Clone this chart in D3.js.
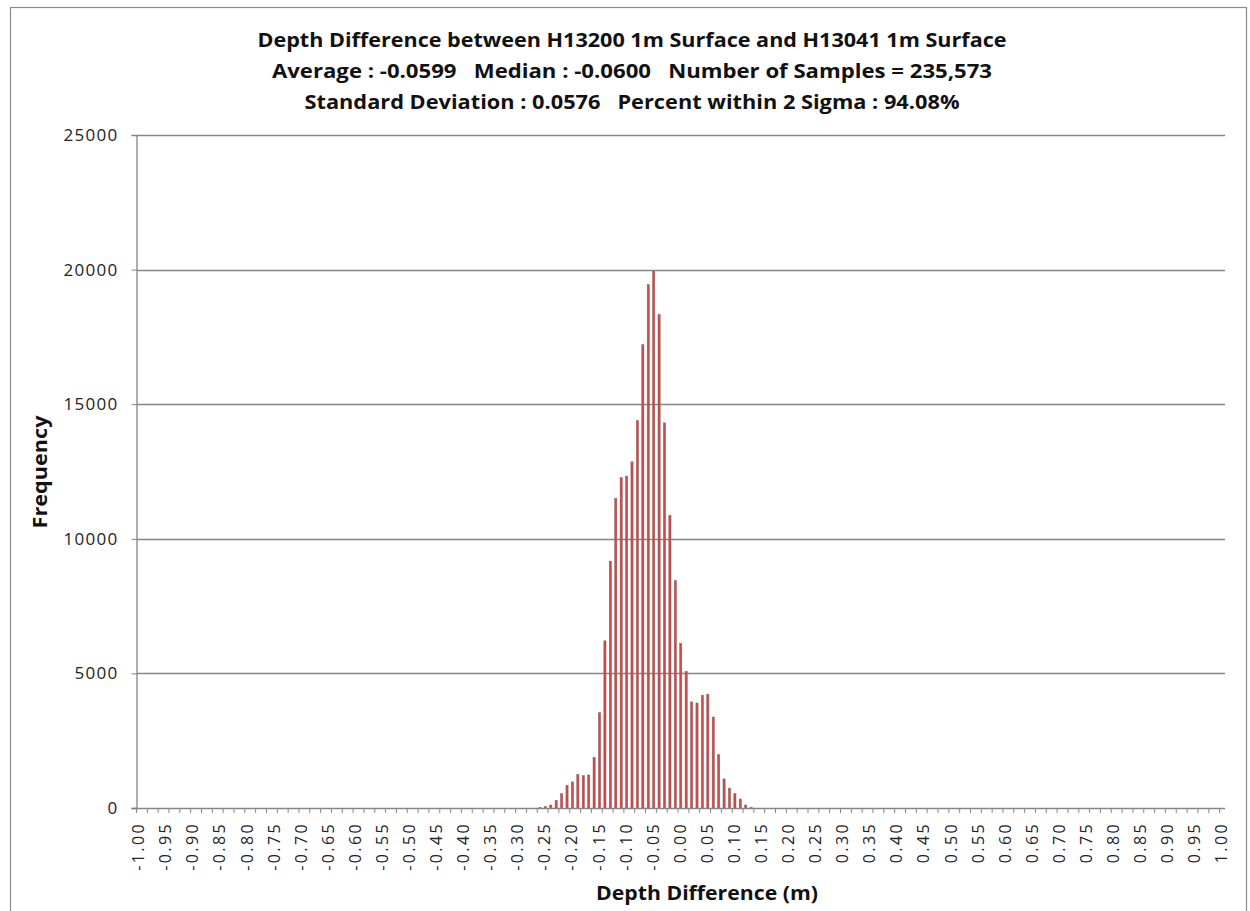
<!DOCTYPE html>
<html>
<head>
<meta charset="utf-8">
<script src="https://cdn.jsdelivr.net/npm/d3@7"></script>
<style>
  body { margin: 0; background: #ffffff; }
  svg { display: block; }
  text { white-space: pre; }
</style>
</head>
<body>
<svg id="chart" width="1250" height="911"></svg>
<script>
// ---- data -------------------------------------------------------------
const titleLines = [
  "Depth Difference between H13200 1m Surface and H13041 1m Surface",
  "Average : -0.0599   Median : -0.0600   Number of Samples = 235,573",
  "Standard Deviation : 0.0576   Percent within 2 Sigma : 94.08%"
];

// histogram bins, 0.01 m wide, labelled -1.00 ... 1.00
const depthBins = d3.range(-100, 101).map(k => (k / 100).toFixed(2));

// sample count in each bin (same order as depthBins)
const frequency = [
  0, 0, 0, 0, 0, 0, 0, 0, 0, 0,
  0, 0, 0, 0, 0, 0, 0, 0, 0, 0,
  0, 0, 0, 0, 0, 0, 0, 0, 0, 0,
  0, 0, 0, 0, 0, 0, 0, 0, 0, 0,
  0, 0, 0, 0, 0, 0, 0, 0, 0, 0,
  0, 0, 0, 0, 0, 0, 0, 0, 0, 0,
  0, 0, 0, 0, 0, 0, 0, 0, 0, 0,
  0, 0, 0, 0, 15, 50, 110, 285, 530, 830,
  970, 1250, 1200, 1225, 1880, 3540, 6210, 9170, 11500, 12270,
  12330, 12860, 14390, 17210, 19440, 19940, 18330, 14310, 10870, 8450,
  6110, 5080, 3940, 3900, 4190, 4225, 3380, 1980, 1080, 740,
  530, 335, 110, 10, 0, 0, 0, 0, 0, 0,
  0, 0, 0, 0, 0, 0, 0, 0, 0, 0,
  0, 0, 0, 0, 0, 0, 0, 0, 0, 0,
  0, 0, 0, 0, 0, 0, 0, 0, 0, 0,
  0, 0, 0, 0, 0, 0, 0, 0, 0, 0,
  0, 0, 0, 0, 0, 0, 0, 0, 0, 0,
  0, 0, 0, 0, 0, 0, 0, 0, 0, 0,
  0, 0, 0, 0, 0, 0, 0, 0, 0, 0,
  0, 0, 0, 0, 0, 0, 0, 0, 0, 0,
  0
];

const yTickValues = [0, 5000, 10000, 15000, 20000, 25000];
const xLabelEvery = 5;   // a label on every 5th bin
const xTickEvery = 2;    // a tick mark on every 2nd bin edge
const xAxisTitle = "Depth Difference (m)";
const yAxisTitle = "Frequency";

// ---- layout -----------------------------------------------------------
const plot = { left: 136.5, right: 1225, top: 135, bottom: 808 };
const gridColor = "#868686";
const labelFont = "'Open Sans', 'DejaVu Sans', sans-serif";
const titleWidths = [749, 720, 655];

const svg = d3.select("#chart");

// outer chart frame
svg.append("rect")
  .attr("x", 10.5).attr("y", 7.5)
  .attr("width", 1236).attr("height", 940)
  .attr("fill", "#ffffff")
  .attr("stroke", "#8a8a8a").attr("stroke-width", 1.2);

const x = d3.scaleBand()
  .domain(depthBins)
  .range([plot.left, plot.right])
  .paddingInner(0.6)
  .paddingOuter(0.3);

const y = d3.scaleLinear()
  .domain([0, 25000])
  .range([plot.bottom, plot.top]);

// horizontal gridlines
svg.append("g")
  .selectAll("line")
  .data(yTickValues.filter(v => v > 0))
  .join("line")
  .attr("x1", plot.left).attr("x2", plot.right)
  .attr("y1", d => Math.round(y(d)) + 0.5)
  .attr("y2", d => Math.round(y(d)) + 0.5)
  .attr("stroke", gridColor).attr("stroke-width", 1.3);

// bars
const bins = depthBins.map((b, i) => ({ bin: b, count: frequency[i] }));
svg.append("g")
  .selectAll("rect")
  .data(bins.filter(d => d.count > 0))
  .join("rect")
  .attr("x", d => x(d.bin))
  .attr("width", x.bandwidth())
  .attr("y", d => y(d.count))
  .attr("height", d => y(0) - y(d.count))
  .attr("fill", "#c94b4b")
  .attr("stroke", "#9b5656")
  .attr("stroke-width", 0.5);

// y axis
const yAxis = d3.axisLeft(y)
  .tickValues(yTickValues)
  .tickSize(5)
  .tickPadding(13)
  .tickFormat(d3.format("d"));
const gy = svg.append("g")
  .attr("transform", `translate(${plot.left},0)`)
  .call(yAxis);
gy.select(".domain").attr("stroke", gridColor).attr("stroke-width", 1.3);
gy.selectAll(".tick line").attr("stroke", gridColor);
gy.selectAll(".tick text")
  .attr("font-family", labelFont)
  .attr("font-size", 17)
  .attr("letter-spacing", 1.3)
  .attr("fill", "#222");

// x axis: edge tick marks every 2 bins, labels every 5 bins
const half = (x.step() - x.bandwidth()) / 2;
const edgePositions = d3.range(0, depthBins.length + 1, xTickEvery)
  .map(k => k < depthBins.length ? x(depthBins[k]) - half : plot.right);

const gx = svg.append("g");
gx.append("line")
  .attr("x1", plot.left - 5).attr("x2", plot.right)
  .attr("y1", plot.bottom + 0.5).attr("y2", plot.bottom + 0.5)
  .attr("stroke", gridColor).attr("stroke-width", 1.3);
gx.selectAll("line.edge")
  .data(edgePositions)
  .join("line")
  .attr("class", "edge")
  .attr("x1", d => d).attr("x2", d => d)
  .attr("y1", plot.bottom).attr("y2", plot.bottom + 5)
  .attr("stroke", gridColor);

gx.selectAll("text")
  .data(depthBins.filter((b, i) => i % xLabelEvery === 0))
  .join("text")
  .attr("transform", d => `translate(${x(d) + x.bandwidth() / 2 + 5},${plot.bottom + 14}) rotate(-90)`)
  .attr("text-anchor", "end")
  .attr("font-family", labelFont)
  .attr("font-size", 16)
  .attr("letter-spacing", 2.4)
  .attr("fill", "#222")
  .text(d => d);

// titles
svg.append("g")
  .selectAll("text")
  .data(titleLines)
  .join("text")
  .attr("x", 632)
  .attr("y", (d, i) => 47 + i * 31)
  .attr("text-anchor", "middle")
  .attr("font-family", labelFont)
  .attr("font-weight", "bold")
  .attr("font-size", 19.5)
  .attr("textLength", (d, i) => titleWidths[i])
  .attr("lengthAdjust", "spacingAndGlyphs")
  .attr("fill", "#111")
  .text(d => d);

svg.append("text")
  .attr("x", 707).attr("y", 900)
  .attr("text-anchor", "middle")
  .attr("font-family", labelFont)
  .attr("font-weight", "bold")
  .attr("font-size", 20)
  .attr("textLength", 222)
  .attr("lengthAdjust", "spacingAndGlyphs")
  .attr("fill", "#111")
  .text(xAxisTitle);

svg.append("text")
  .attr("transform", "translate(47,472) rotate(-90)")
  .attr("text-anchor", "middle")
  .attr("font-family", labelFont)
  .attr("font-weight", "bold")
  .attr("font-size", 20)
  .attr("textLength", 113)
  .attr("lengthAdjust", "spacingAndGlyphs")
  .attr("fill", "#111")
  .text(yAxisTitle);
</script>
</body>
</html>
